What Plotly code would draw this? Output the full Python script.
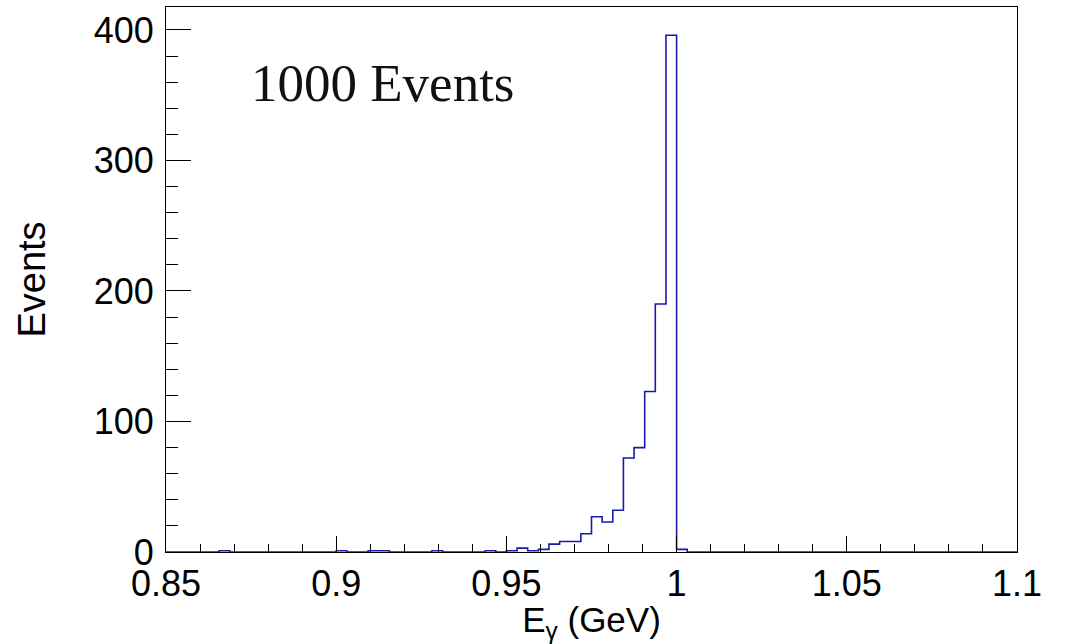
import plotly.graph_objects as go

# Histogram definition (ROOT-style TH1): 80 bins from 0.85 to 1.1 GeV
x_min = 0.85
x_max = 1.1
n_bins = 80

# Bin contents (events per bin)
counts = [0] * n_bins
nonzero_bins = [5, 16, 19, 20, 25, 30, 32, 33, 34, 35, 36, 37, 38, 39, 40,
                41, 42, 43, 44, 45, 46, 47, 48]
nonzero_counts = [1, 1, 1, 1, 1, 1, 1, 3, 1, 2, 6, 8, 8, 14, 27,
                  23, 32, 72, 80, 123, 190, 396, 2]
for b, c in zip(nonzero_bins, nonzero_counts):
    counts[b] = c

x_tick_vals = [0.85, 0.9, 0.95, 1.0, 1.05, 1.1]
x_tick_text = ["0.85", "0.9", "0.95", "1", "1.05", "1.1"]
y_tick_vals = [0, 100, 200, 300, 400]
y_tick_text = ["0", "100", "200", "300", "400"]

label_text = "1000 Events"
x_title = "E<sub>γ</sub> (GeV)"
y_title = "Events"

# Build step outline from bin edges
width = (x_max - x_min) / n_bins
edges = [x_min + i * width for i in range(n_bins + 1)]
step_x = [edges[0]] + edges
step_y = [0] + counts + [0]

fig = go.Figure()
fig.add_trace(go.Scatter(
    x=step_x, y=step_y, mode="lines", line_shape="hv",
    line=dict(color="#1a1aaa", width=1.6), hoverinfo="skip", showlegend=False,
))

sans = "Liberation Sans, Arial, sans-serif"

fig.update_layout(
    width=1068, height=644,
    margin=dict(l=166, r=51, t=7, b=92),
    paper_bgcolor="white", plot_bgcolor="white",
    showlegend=False,
    xaxis=dict(
        range=[x_min, x_max], showgrid=False, zeroline=False,
        showline=True, linecolor="black", linewidth=1, mirror=True,
        ticks="inside", ticklen=16, tickwidth=1, tickcolor="black",
        tickvals=x_tick_vals, ticktext=x_tick_text,
        minor=dict(dtick=0.01, ticks="inside", ticklen=8, tickwidth=1, tickcolor="black", showgrid=False),
        tickfont=dict(family=sans, size=36, color="black"),
        ticklabelstandoff=0,
        layer="above traces",
        title=dict(text=x_title, font=dict(family=sans, size=35, color="black"), standoff=2),
    ),
    yaxis=dict(
        range=[0, 417.6], showgrid=False, zeroline=False,
        showline=True, linecolor="black", linewidth=1, mirror=True,
        ticks="inside", ticklen=25, tickwidth=1, tickcolor="black",
        tickvals=y_tick_vals, ticktext=y_tick_text,
        minor=dict(dtick=20, ticks="inside", ticklen=12, tickwidth=1, tickcolor="black", showgrid=False),
        tickfont=dict(family=sans, size=36, color="black"),
        ticklabelstandoff=4,
        layer="above traces",
        title=dict(text=y_title, font=dict(family=sans, size=38, color="black"), standoff=36),
    ),
    annotations=[dict(
        text=label_text, xref="paper", yref="paper", x=0.097, y=0.86,
        xanchor="left", yanchor="middle", showarrow=False,
        font=dict(family="Liberation Serif, Times New Roman, serif", size=53, color="#111111"),
    )],
)

fig.write_html("out.html")
